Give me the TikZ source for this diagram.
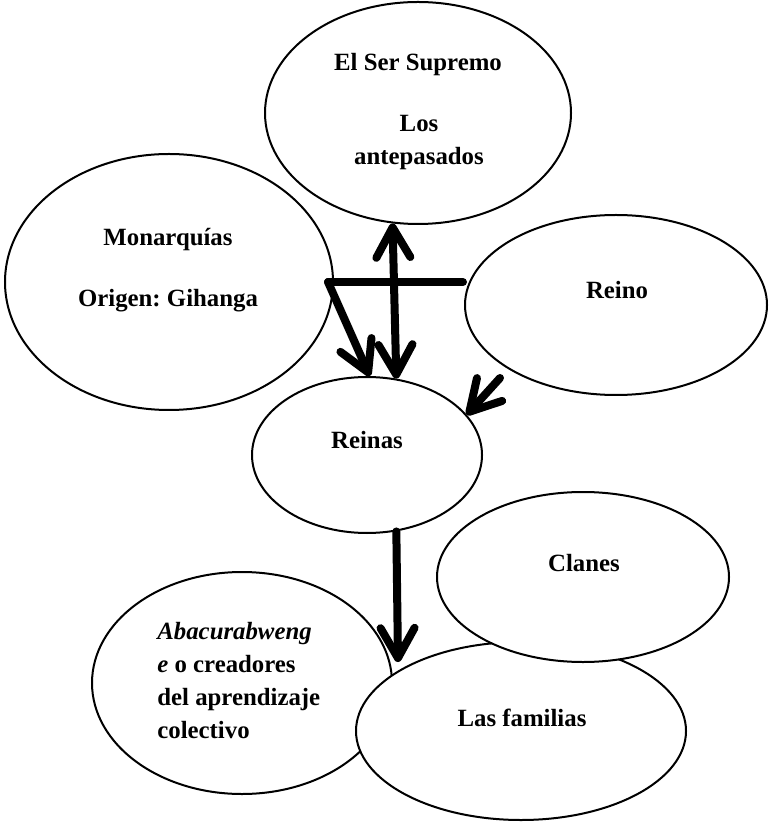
\documentclass[tikz,border=0pt]{standalone}
\usepackage{fontspec}
\setmainfont{Liberation Serif}
\usetikzlibrary{calc}
\usetikzlibrary{arrows.meta}
\usetikzlibrary{shapes.geometric}
\frenchspacing

\begin{document}
\begin{tikzpicture}[x=.5pt, y=-.5pt,
  bubble/.style={draw, ellipse, line width=1pt, fill=white, inner sep=0pt},
  txt/.style={font=\fontsize{12.4}{16.5}\selectfont\bfseries, inner sep=0pt, anchor=base},
  link/.style={line width=4pt, line cap=round, line join=round},
  headed/.style={-{Straight Barb[round, length=15pt, width=17pt]}},
  headedboth/.style={{Straight Barb[round, length=15pt, width=17pt]}-{Straight Barb[round, length=15pt, width=17pt]}}]

\useasboundingbox (0,0) rectangle (770,822);

\node[bubble, minimum width=164pt, minimum height=128pt] (monar) at (169,282) {};
\node[bubble, minimum width=153pt, minimum height=111pt] (sup) at (418,113) {};
\node[bubble, minimum width=151pt, minimum height=90pt] (reino) at (616,305) {};
\node[bubble, minimum width=115pt, minimum height=78pt] (reinas) at (367,455) {};
\node[bubble, minimum width=150pt, minimum height=111pt] (abacu) at (242,683) {};
\node[bubble, minimum width=165pt, minimum height=89pt] (fam) at (521,731) {};
\node[bubble, minimum width=146pt, minimum height=85pt] (clanes) at (583,577) {};

\node[txt] (sup-a) at (418,71) {El Ser Supremo};
\node[txt] (sup-b) at (419,132) {Los};
\node[txt] (sup-c) at (419,165) {antepasados};
\node[txt] (monar-a) at (168,246) {Monarquías};
\node[txt] (monar-b) at (168,307) {Origen: Gihanga};
\node[txt] (reino-a) at (617,299) {Reino};
\node[txt] (reinas-a) at (367,448) {Reinas};
\node[txt] (clanes-a) at (584,571) {Clanes};
\node[txt] (fam-a) at (522,726) {Las familias};
\node[txt, anchor=north west, align=left] (abacu-a) at (157,622)
  {\textit{Abacurabweng}\\\textit{e} o creadores\\del aprendizaje\\colectivo};

\coordinate (barL) at (328,282);
\coordinate (barR) at (463,282);
\coordinate (reinoTail) at (500,378);
\coordinate (famTip) at (398,662);

\draw[link] (barL) -- (barR);
\draw[link, headed] (barL) -- (reinas.88);
\draw[link, headedboth] (sup.257) -- (reinas.69);
\draw[link, headed] (reinoTail) -- (reinas.22);
\draw[link, headed] (reinas.291) -- (famTip);
\end{tikzpicture}
\end{document}
